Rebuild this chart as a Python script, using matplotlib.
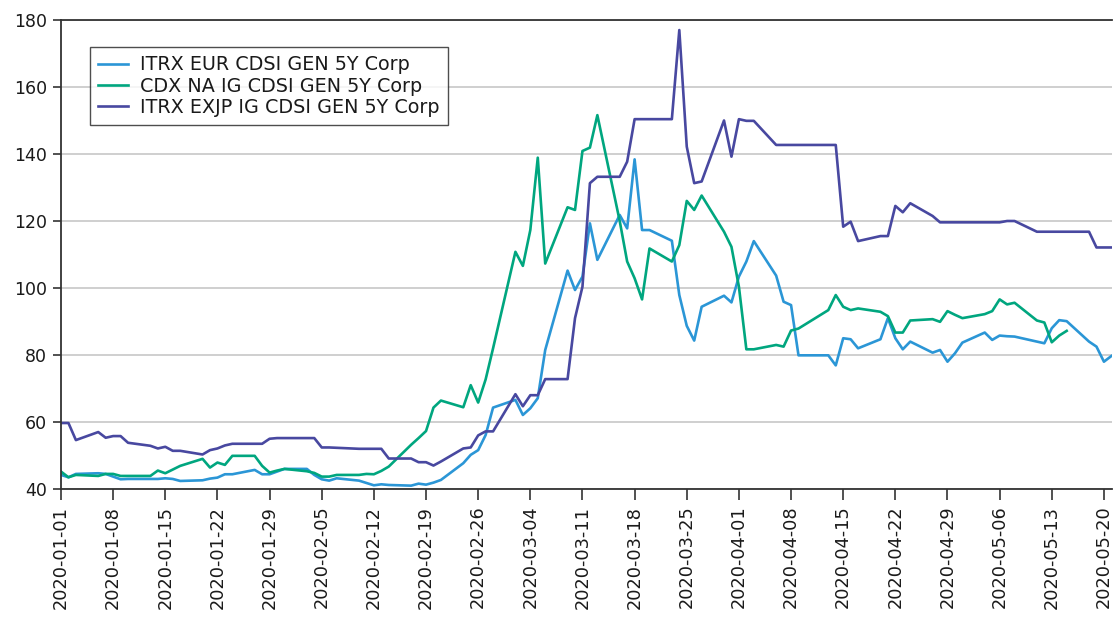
import numpy as np
import pandas as pd
import matplotlib
matplotlib.use("Agg")
import matplotlib.pyplot as plt
import matplotlib.dates as mdates

# trading days (Good Friday dropped)
dates = pd.bdate_range("2020-01-01", "2020-05-21")
dates = dates[dates != pd.Timestamp("2020-04-10")]

itrx_eur = [
    # Jan
    44.2, 43.5, 44.5, 44.7, 44.5, 43.7, 42.9, 43.0, 43.0, 43.0, 43.2, 43.0,
    42.4, 42.6, 43.1, 43.4, 44.4, 44.4, 45.7, 44.4, 44.4, 45.2, 46.0,
    # Feb
    46.0, 44.2, 42.9, 42.5, 43.2, 42.5, 41.8, 41.1, 41.4, 41.2, 41.0, 41.6,
    41.3, 41.9, 42.7, 47.7, 50.2, 51.6, 56.1, 64.3,
    # Mar
    66.6, 62.1, 64.1, 67.1, 81.5, 105.2, 99.4, 103.4, 119.3, 108.4, 121.8,
    117.8, 138.4, 117.3, 117.3, 114.1, 97.9, 88.7, 84.3, 94.4, 97.7, 95.7,
    # Apr
    103.4, 107.9, 114.0, 103.7, 95.9, 94.9, 79.9, 79.9, 76.9, 85.0, 84.7,
    82.0, 84.7, 91.0, 85.0, 81.7, 84.0, 80.7, 81.5, 78.0, 80.5,
    # May
    83.7, 86.7, 84.5, 85.8, 85.6, 85.5, 84.0, 83.5, 88.0, 90.4, 90.1, 84.0,
    82.5, 78.0, 79.7,
]

cdx_na_ig = [
    # Jan
    45.2, 43.5, 44.2, 43.9, 44.5, 44.5, 43.9, 43.9, 43.9, 45.5, 44.7, 45.8,
    46.9, 49.0, 46.4, 47.9, 47.2, 49.9, 49.9, 46.9, 44.9, 45.5, 46.0,
    # Feb
    45.3, 44.8, 43.7, 43.7, 44.2, 44.2, 44.5, 44.4, 45.4, 46.7, 53.2, 55.2,
    57.3, 64.3, 66.4, 64.4, 71.0, 65.8, 72.7, 82.0,
    # Mar
    110.8, 106.6, 117.3, 138.9, 107.3, 124.1, 123.3, 140.9, 141.9, 151.6,
    120.0, 107.9, 102.9, 96.6, 111.8, 107.9, 112.8, 126.0, 123.3, 127.6,
    116.8, 112.3,
    # Apr
    100.4, 81.7, 81.7, 83.0, 82.5, 87.3, 87.9, 93.4, 97.9, 94.4, 93.4, 93.9,
    92.9, 91.6, 86.7, 86.7, 90.3, 90.7, 89.9, 93.1, 92.0,
    # May
    91.0, 92.2, 93.1, 96.6, 95.1, 95.6, 90.3, 89.7, 83.8, 85.8, 87.2,
    np.nan, np.nan, np.nan, np.nan,
]

itrx_exjp = [
    # Jan
    59.7, 59.7, 54.6, 57.0, 55.3, 55.8, 55.8, 53.8, 52.9, 52.1, 52.6, 51.4,
    51.4, 50.3, 51.6, 52.1, 53.0, 53.5, 53.5, 53.5, 55.0, 55.2, 55.2,
    # Feb
    55.2, 55.2, 52.4, 52.4, 52.3, 52.0, 52.0, 52.0, 52.0, 49.1, 49.1, 48.0,
    48.0, 47.0, 48.2, 52.1, 52.4, 56.0, 57.2, 57.2,
    # Mar
    68.3, 64.7, 68.0, 68.0, 72.8, 72.8, 91.0, 100.4, 131.3, 133.2, 133.2,
    137.7, 150.4, 150.4, 150.4, 150.4, 177.0, 142.2, 131.3, 131.8, 150.0,
    139.2,
    # Apr
    150.4, 149.9, 149.9, 142.7, 142.7, 142.7, 142.7, 142.7, 142.7, 118.3,
    119.8, 114.0, 115.5, 115.5, 124.5, 122.6, 125.3, 121.5, 119.6, 119.6,
    119.6,
    # May
    119.6, 119.6, 119.6, 119.6, 120.0, 120.0, 116.8, 116.8, 116.8, 116.8,
    116.8, 116.8, 112.1, 112.1, 112.1,
]

labels = ["ITRX EUR CDSI GEN 5Y Corp", "CDX NA IG CDSI GEN 5Y Corp",
          "ITRX EXJP IG CDSI GEN 5Y Corp"]
colors = ["#2b96d6", "#00a67f", "#4848a0"]

fig = plt.figure(figsize=(11.13, 6.19), dpi=100)
ax = fig.add_axes([61 / 1113, 130 / 619, 1051 / 1113, 469 / 619])

for vals, lab, col in zip([itrx_eur, cdx_na_ig, itrx_exjp], labels, colors):
    ax.plot(dates, vals, color=col, lw=1.9, label=lab)

ax.set_ylim(40, 180)
ax.set_yticks(range(40, 181, 20))
ax.set_xlim(pd.Timestamp("2020-01-01"), pd.Timestamp("2020-05-21 02:00"))
ticks = pd.date_range("2020-01-01", "2020-05-20", freq="7D")
ax.set_xticks(ticks)
ax.xaxis.set_major_formatter(mdates.DateFormatter("%Y-%m-%d"))
plt.setp(ax.get_xticklabels(), rotation=90, fontsize=12.8, color="#1a1a1a")
plt.setp(ax.get_yticklabels(), fontsize=12.5, color="#1a1a1a")

ax.grid(axis="y", color="#cccccc", lw=1.3)
ax.set_axisbelow(True)
for s in ["left", "bottom", "top"]:
    ax.spines[s].set_color("#333333")
    ax.spines[s].set_linewidth(1.3)
ax.spines["right"].set_visible(False)
ax.tick_params(axis="x", direction="out", length=8, width=1.2, color="#333333", pad=4)
ax.tick_params(axis="y", direction="out", length=6, width=1.2, color="#333333", pad=4)

leg = ax.legend(loc="upper left", bbox_to_anchor=(0.0276, 0.942), fontsize=13.8,
                frameon=True, fancybox=False, handlelength=1.55, labelspacing=0.12,
                borderpad=0.42, handletextpad=0.65, borderaxespad=0)
leg.get_frame().set_edgecolor("#222222")
leg.get_frame().set_linewidth(1.0)
for t in leg.get_texts():
    t.set_color("#1a1a1a")

fig.savefig("out.png", dpi=100)
